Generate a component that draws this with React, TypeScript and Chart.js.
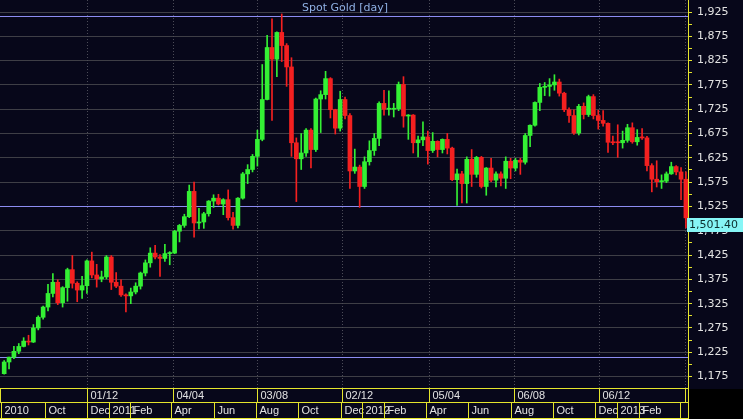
import { useEffect, useRef } from 'react';
import { Chart, registerables } from 'chart.js';

Chart.register(...registerables);

// ---- data: weekly candles of Spot Gold, first week starting Mon 2 Aug 2010 ----
const FIRST_WEEK = '2010-08-02';

const opens = [
  1181, 1205, 1215, 1227, 1237, 1248, 1246, 1275, 1297, 1318,
  1346, 1369, 1327, 1358, 1395, 1367, 1353, 1362, 1413, 1384,
  1376, 1380, 1421, 1369, 1361, 1343, 1341, 1349, 1361, 1388,
  1409, 1429, 1421, 1418, 1428, 1429, 1474, 1486, 1504, 1556,
  1491, 1493, 1510, 1536, 1542, 1530, 1539, 1502, 1486, 1542,
  1592, 1601, 1628, 1663, 1745, 1852, 1828, 1883, 1856, 1812,
  1656, 1623, 1635, 1682, 1642, 1746, 1755, 1788, 1724, 1686,
  1745, 1712, 1598, 1606, 1566, 1617, 1640, 1665, 1737, 1725,
  1725, 1726, 1776, 1711, 1713, 1656, 1662, 1668, 1640, 1659,
  1642, 1663, 1645, 1580, 1592, 1572, 1622, 1591, 1626, 1566,
  1604, 1579, 1592, 1583, 1618, 1604, 1620, 1616, 1671, 1692,
  1739, 1770, 1772, 1775, 1781, 1758, 1724, 1712, 1676, 1731,
  1714, 1751, 1712, 1702, 1696, 1657, 1657, 1656, 1661, 1687,
  1658, 1667, 1666, 1609, 1581, 1576, 1577, 1592, 1607, 1596,
  1581,
];

const highs = [
  1208, 1215, 1237, 1243, 1255, 1260, 1282, 1300, 1320, 1365,
  1387, 1374, 1360, 1398, 1424, 1370, 1381, 1415, 1431, 1406,
  1392, 1424, 1424, 1389, 1374, 1345, 1357, 1368, 1390, 1415,
  1440, 1445, 1426, 1447, 1432, 1476, 1488, 1509, 1569, 1575,
  1521, 1513, 1537, 1549, 1550, 1541, 1559, 1513, 1543, 1595,
  1611, 1632, 1682, 1817, 1877, 1911, 1884, 1921, 1860, 1831,
  1666, 1675, 1685, 1685, 1748, 1763, 1803, 1790, 1725, 1762,
  1750, 1716, 1643, 1610, 1627, 1660, 1675, 1740, 1764, 1763,
  1737, 1781, 1792, 1714, 1714, 1670, 1699, 1680, 1677, 1660,
  1664, 1675, 1647, 1602, 1597, 1627, 1642, 1628, 1628, 1605,
  1624, 1596, 1596, 1627, 1624, 1624, 1624, 1675, 1693, 1740,
  1778, 1780, 1788, 1796, 1787, 1760, 1728, 1724, 1735, 1738,
  1754, 1755, 1723, 1722, 1697, 1670, 1693, 1680, 1694, 1697,
  1683, 1685, 1669, 1613, 1619, 1590, 1596, 1616, 1609, 1605,
  1596,
];

const lows = [
  1180, 1191, 1212, 1222, 1236, 1240, 1245, 1271, 1293, 1310,
  1339, 1323, 1318, 1330, 1357, 1329, 1336, 1346, 1378, 1359,
  1370, 1376, 1354, 1358, 1340, 1308, 1325, 1345, 1355, 1382,
  1400, 1417, 1381, 1412, 1405, 1428, 1452, 1482, 1502, 1462,
  1479, 1480, 1505, 1523, 1528, 1508, 1497, 1478, 1481, 1540,
  1572, 1596, 1608, 1660, 1744, 1702, 1792, 1823, 1772, 1628,
  1535, 1601, 1628, 1604, 1638, 1677, 1746, 1707, 1674, 1680,
  1705, 1562, 1593, 1523, 1562, 1610, 1630, 1650, 1713, 1713,
  1709, 1722, 1688, 1663, 1635, 1627, 1650, 1612, 1636, 1627,
  1635, 1633, 1578, 1527, 1532, 1532, 1566, 1585, 1563, 1548,
  1576, 1565, 1567, 1562, 1582, 1598, 1591, 1612, 1648, 1690,
  1722, 1753, 1752, 1764, 1752, 1720, 1698, 1673, 1672, 1705,
  1710, 1705, 1684, 1690, 1636, 1652, 1626, 1645, 1657, 1655,
  1651, 1663, 1598, 1555, 1565, 1562, 1574, 1591, 1590, 1539,
  1481,
];

const closes = [
  1205, 1215, 1227, 1237, 1248, 1246, 1275, 1297, 1318, 1346,
  1369, 1327, 1358, 1395, 1367, 1353, 1362, 1413, 1384, 1376,
  1380, 1421, 1369, 1361, 1343, 1341, 1349, 1361, 1388, 1409,
  1429, 1421, 1418, 1428, 1429, 1474, 1486, 1504, 1556, 1491,
  1493, 1510, 1536, 1542, 1530, 1539, 1502, 1486, 1542, 1592,
  1601, 1628, 1663, 1745, 1852, 1828, 1883, 1856, 1812, 1656,
  1623, 1635, 1682, 1642, 1746, 1755, 1788, 1724, 1686, 1745,
  1712, 1598, 1606, 1566, 1617, 1640, 1665, 1737, 1725, 1725,
  1726, 1776, 1711, 1713, 1656, 1662, 1668, 1640, 1659, 1642,
  1663, 1645, 1580, 1592, 1572, 1622, 1591, 1626, 1566, 1604,
  1579, 1592, 1583, 1618, 1604, 1620, 1616, 1671, 1692, 1739,
  1770, 1772, 1775, 1781, 1758, 1724, 1712, 1676, 1731, 1714,
  1751, 1712, 1702, 1696, 1657, 1656, 1656, 1661, 1687, 1658,
  1667, 1666, 1609, 1581, 1576, 1577, 1592, 1607, 1596, 1581,
  1501.4,
];

// horizontal reference lines (blue)
const refLevels = [1917, 1526, 1216];

// y-axis ticks
const yLabelTicks = [1175, 1225, 1275, 1325, 1375, 1425, 1475, 1525, 1575, 1625, 1675, 1725, 1775, 1825, 1875, 1925];
const yMinorTicks = [1200, 1250, 1300, 1350, 1400, 1450, 1500, 1550, 1600, 1650, 1700, 1750, 1800, 1850, 1900];

// x-axis upper row (box starts and labels); first label belongs to the left edge
const row1Starts = ['2010-12-01', '2011-04-04', '2011-08-03', '2011-12-02', '2012-04-05', '2012-08-06', '2012-12-06', '2013-04-08'];
const row1Labels = ['', '01/12', '04/04', '03/08', '02/12', '05/04', '06/08', '06/12', ''];

// x-axis lower row
const row2Starts = [
  '2010-10-01', '2010-12-01', '2011-01-01', '2011-02-01', '2011-04-01', '2011-06-01', '2011-08-01',
  '2011-10-01', '2011-12-01', '2012-01-01', '2012-02-01', '2012-04-01', '2012-06-01', '2012-08-01',
  '2012-10-01', '2012-12-01', '2013-01-01', '2013-02-01', '2013-04-01',
];
const row2Labels = ['2010', 'Oct', 'Dec', '2011', 'Feb', 'Apr', 'Jun', 'Aug', 'Oct', 'Dec', '2012', 'Feb', 'Apr', 'Jun', 'Aug', 'Oct', 'Dec', '2013', 'Feb', ''];

const TITLE = 'Spot Gold [day]';
const LAST_LABEL = '1,501.40';

// ---- style ----
const BG = '#07071a';
const YELLOW = '#e4e42c';
const GRID = '#3e3e46';
const UP = '#34f034';
const DOWN = '#f42020';
const REF = '#8c8cf2';
const TEXT = '#e2e2e2';
const CYAN = '#86f6f6';

const X_MIN = -4;
const X_MAX = 985;
const Y_MIN = 1151.5;
const Y_MAX = 1949.7;

const DAY_MS = 86400000;
const startMs = Date.parse(FIRST_WEEK + 'T00:00:00Z');
const dayOf = (s: string) => (Date.parse(s + 'T00:00:00Z') - startMs) / DAY_MS;

const chartPlugin = {
  id: 'bloombergLook',
  beforeDraw(chart: any) {
    const { ctx, width, height, chartArea } = chart;
    ctx.save();
    ctx.fillStyle = BG;
    ctx.fillRect(0, 0, width, height);
    ctx.fillStyle = '#000000';
    ctx.fillRect(chartArea.right + 1, chartArea.bottom + 1, width - chartArea.right, height - chartArea.bottom);
    ctx.restore();
  },
  beforeDatasetsDraw(chart: any) {
    const { ctx, chartArea } = chart;
    const xs = chart.scales.x;
    const ys = chart.scales.y;
    ctx.save();
    // vertical dotted grid
    ctx.strokeStyle = '#4c4c58';
    ctx.lineWidth = 1;
    ctx.setLineDash([1, 2]);
    row1Starts.forEach((d) => {
      const px = Math.round(xs.getPixelForValue(dayOf(d))) + 0.5;
      if (px >= chartArea.right - 2) return;
      ctx.beginPath();
      ctx.moveTo(px, chartArea.top);
      ctx.lineTo(px, chartArea.bottom);
      ctx.stroke();
    });
    ctx.setLineDash([]);
    // blue reference lines
    ctx.strokeStyle = REF;
    refLevels.forEach((v) => {
      const py = Math.round(ys.getPixelForValue(v)) + 0.5;
      ctx.beginPath();
      ctx.moveTo(chartArea.left, py);
      ctx.lineTo(chartArea.right, py);
      ctx.stroke();
    });
    ctx.restore();
  },
  afterDraw(chart: any) {
    const { ctx, chartArea, width } = chart;
    const xs = chart.scales.x;
    const ys = chart.scales.y;
    const left = chartArea.left;
    const right = chartArea.right;
    const r1Top = chartArea.bottom;
    const r1Bot = r1Top + 14;
    const r2Bot = r1Top + 30;
    ctx.save();
    ctx.strokeStyle = YELLOW;
    ctx.lineWidth = 1;
    const hline = (y: number) => {
      ctx.beginPath();
      ctx.moveTo(left, y + 0.5);
      ctx.lineTo(right, y + 0.5);
      ctx.stroke();
    };
    const vline = (x: number, y0: number, y1: number) => {
      ctx.beginPath();
      ctx.moveTo(x, y0);
      ctx.lineTo(x, y1);
      ctx.stroke();
    };
    hline(r1Top);
    hline(r1Bot);
    hline(r2Bot);
    // axis line extended down through x-axis rows
    vline(Math.round(right) + 0.5, 0, r2Bot + 1);

    ctx.font = '11px "Liberation Sans", Arial, sans-serif';
    ctx.fillStyle = TEXT;
    ctx.textBaseline = 'middle';
    ctx.textAlign = 'left';

    // row 1
    const r1Pos = [left + 0.5, ...row1Starts.map((d) => Math.round(xs.getPixelForValue(dayOf(d))) + 0.5)];
    r1Pos.forEach((px, i) => {
      vline(px, r1Top, r1Bot + 1);
      if (row1Labels[i]) ctx.fillText(row1Labels[i], px + 3, r1Top + 8);
    });
    // row 2
    const r2Pos = [left + 1.5, ...row2Starts.map((d) => Math.round(xs.getPixelForValue(dayOf(d))) + 0.5)];
    r2Pos.forEach((px, i) => {
      vline(px, r1Bot, r2Bot + 1);
      if (row2Labels[i]) ctx.fillText(row2Labels[i], px + 3, r1Bot + 9);
    });

    // title
    ctx.font = '11px "DejaVu Sans", sans-serif';
    ctx.fillStyle = '#8fb0e4';
    ctx.textAlign = 'center';
    ctx.fillText(TITLE, (left + right) / 2 + 1, 8);

    // last price box
    const last = closes[closes.length - 1];
    const py = Math.round(ys.getPixelForValue(last));
    ctx.fillStyle = CYAN;
    ctx.fillRect(right - 1, py, width - right + 1, 14);
    ctx.fillStyle = '#0c2e2e';
    ctx.textAlign = 'left';
    ctx.fillText(LAST_LABEL, right + 1, py + 7.5);
    ctx.restore();
  },
};

export default function App() {
  const canvasRef = useRef<HTMLCanvasElement | null>(null);

  useEffect(() => {
    document.body.style.margin = '0';
    const canvas = canvasRef.current;
    if (!canvas) return;
    const xCenters = opens.map((_, i) => i * 7 + 2);
    const colors = opens.map((o, i) => (closes[i] >= o ? UP : DOWN));

    const chart = new Chart(canvas, {
      type: 'bar',
      data: {
        datasets: [
          {
            label: 'range',
            data: xCenters.map((x, i) => ({ x, y: [lows[i], highs[i]] })) as any,
            backgroundColor: colors,
            borderWidth: 0,
            barThickness: 1,
            grouped: false,
            order: 2,
          } as any,
          {
            label: 'body',
            data: xCenters.map((x, i) => ({ x, y: [opens[i], closes[i]] })) as any,
            backgroundColor: colors,
            borderWidth: 0,
            barThickness: 4,
            minBarLength: 1,
            grouped: false,
            order: 1,
          } as any,
        ],
      },
      options: {
        animation: false,
        responsive: true,
        maintainAspectRatio: false,
        events: [],
        layout: { padding: { left: 0, right: 0, top: 0, bottom: 31 } },
        plugins: {
          legend: { display: false },
          tooltip: { enabled: false },
          title: { display: false },
        },
        scales: {
          x: {
            type: 'linear',
            display: false,
            min: X_MIN,
            max: X_MAX,
            offset: false,
          },
          y: {
            type: 'linear',
            position: 'right',
            min: Y_MIN,
            max: Y_MAX,
            afterBuildTicks: (scale: any) => {
              scale.ticks = [...yLabelTicks, ...yMinorTicks].sort((a, b) => a - b).map((v) => ({ value: v }));
            },
            afterFit: (scale: any) => {
              scale.width = 55;
              scale.paddingTop = 0;
              scale.paddingBottom = 0;
            },
            border: { color: YELLOW, width: 1 },
            grid: {
              color: (c: any) => (c.tick && yLabelTicks.includes(c.tick.value) ? GRID : 'rgba(0,0,0,0)'),
              tickColor: YELLOW,
              tickLength: 4,
              lineWidth: 1,
            },
            ticks: {
              autoSkip: false,
              padding: 5,
              color: TEXT,
              font: { family: '"DejaVu Sans", sans-serif', size: 11 },
              callback: (v: any) => (yLabelTicks.includes(Number(v)) ? Number(v).toLocaleString('en-US') : ''),
            },
          },
        },
      } as any,
      plugins: [chartPlugin],
    });
    return () => chart.destroy();
  }, []);

  return (
    <div style={{ position: 'fixed', left: 0, top: 0, width: '100vw', height: '100vh', background: BG }}>
      <canvas ref={canvasRef} />
    </div>
  );
}
